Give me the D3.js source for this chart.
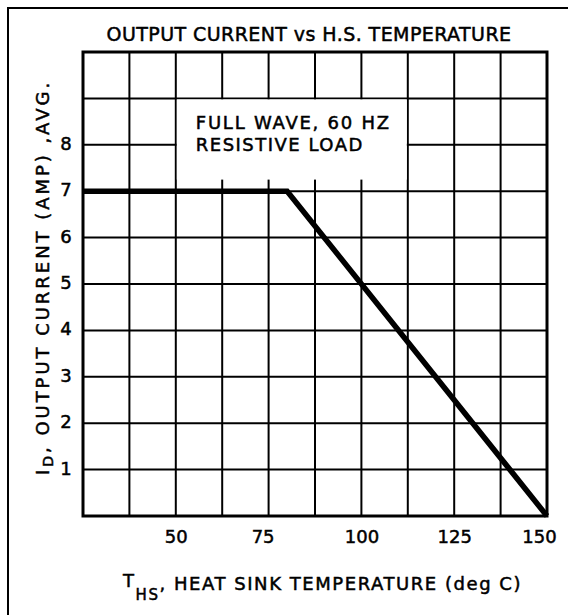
<!DOCTYPE html>
<html>
<head>
<meta charset="utf-8">
<script src="https://cdn.jsdelivr.net/npm/d3@7"></script>
<style>
  body { margin: 0; background: #fff; }
  text { font-family: "DejaVu Sans", sans-serif; fill: #000; stroke: #000; stroke-width: 0.5px; }
</style>
</head>
<body>
<svg id="chart"></svg>
<script>
// derating curve: heat sink temperature (deg C) vs average output current (A)
const temperature = [25, 80, 150];
const outputCurrent = [7, 7, 0];

const xTickValues = [50, 75, 100, 125, 150];
const yTickValues = [1, 2, 3, 4, 5, 6, 7, 8];
const xGridValues = [37.5, 50, 62.5, 75, 87.5, 100, 112.5, 125, 137.5];
const yGridValues = [1, 2, 3, 4, 5, 6, 7, 8, 9];

const title = "OUTPUT CURRENT vs H.S. TEMPERATURE";
const noteLines = ["FULL WAVE, 60 HZ", "RESISTIVE LOAD"];

const width = 568, height = 615;
const margin = { top: 52, right: 21, bottom: 99, left: 83 };
const w = width - margin.left - margin.right;
const h = height - margin.top - margin.bottom;

const svg = d3.select('#chart')
  .attr('width', width)
  .attr('height', height);

// spread letters so a label covers a given width
function fitText(sel, target) {
  const node = sel.node();
  const n = node.textContent.length;
  const len = node.getComputedTextLength();
  sel.attr('letter-spacing', ((target - len) / n).toFixed(2));
}

// scanned page border (only left and top survive)
svg.append('path')
  .attr('d', `M8,${height + 5}V8H${width + 5}`)
  .attr('fill', 'none')
  .attr('stroke', '#000')
  .attr('stroke-width', 2);

const t = svg.append('text')
  .attr('x', 309)
  .attr('y', 41)
  .attr('text-anchor', 'middle')
  .attr('font-size', 19)
  .text(title);
fitText(t, 405);

const g = svg.append('g')
  .attr('transform', `translate(${margin.left},${margin.top})`);

const x = d3.scaleLinear().domain([25, 150]).range([0, w]);
const y = d3.scaleLinear().domain([0, 10]).range([h, 0]);

// grid
g.append('g').selectAll('line')
  .data(xGridValues)
  .enter()
  .append('line')
  .attr('x1', d => x(d)).attr('x2', d => x(d))
  .attr('y1', 0).attr('y2', h)
  .attr('stroke', '#000').attr('stroke-width', 2);

g.append('g').selectAll('line')
  .data(yGridValues)
  .enter()
  .append('line')
  .attr('x1', 0).attr('x2', w)
  .attr('y1', d => y(d)).attr('y2', d => y(d))
  .attr('stroke', '#000').attr('stroke-width', 2);

// note box blanks out the grid behind it
g.append('rect')
  .attr('x', x(50) + 1)
  .attr('y', y(9) + 1)
  .attr('width', x(112.5) - x(50) - 2)
  .attr('height', y(7.25) - y(9) - 1)
  .attr('fill', '#fff');

const noteWidths = [195, 168];
noteLines.forEach((line, i) => {
  const nt = g.append('text')
    .attr('x', x(50) + 20)
    .attr('y', y(9) + 31 + i * 22)
    .attr('font-size', 18)
    .text(line);
  fitText(nt, noteWidths[i]);
});

// frame
g.append('rect')
  .attr('width', w)
  .attr('height', h)
  .attr('fill', 'none')
  .attr('stroke', '#000')
  .attr('stroke-width', 3);

// axes (labels only)
const xAxis = g.append('g')
  .attr('transform', `translate(0,${h})`)
  .call(d3.axisBottom(x).tickValues(xTickValues).tickSize(0).tickPadding(14));
xAxis.select('.domain').remove();
xAxis.selectAll('text')
  .attr('font-size', 18)
  .attr('font-family', '"DejaVu Sans", sans-serif')
  .attr('dx', d => d === 150 ? -8 : (d === 75 ? -6 : 0));

const yAxis = g.append('g')
  .call(d3.axisLeft(y).tickValues(yTickValues).tickSize(0).tickPadding(15));
yAxis.select('.domain').remove();
yAxis.selectAll('text')
  .attr('font-size', 18)
  .attr('font-family', '"DejaVu Sans", sans-serif')
  .attr('text-anchor', 'middle')
  .attr('dx', -2)
  .attr('dy', '0.25em');

// derating curve
const line = d3.line()
  .x((d, i) => x(temperature[i]))
  .y(d => y(d));

g.append('path')
  .datum(outputCurrent)
  .attr('d', line)
  .attr('fill', 'none')
  .attr('stroke', '#000')
  .attr('stroke-width', 5.5)
  .attr('stroke-linejoin', 'miter');

// axis titles
const xt = svg.append('text')
  .attr('x', 123)
  .attr('y', 590)
  .attr('font-size', 18);
xt.append('tspan').attr('dy', -3).text('T');
xt.append('tspan').attr('dy', 13).attr('font-size', 15).text('HS');
xt.append('tspan').attr('dy', -10).text(', HEAT SINK TEMPERATURE (deg C)');
fitText(xt, 399);

const yt = svg.append('text')
  .attr('transform', 'translate(49,475) rotate(-90)')
  .attr('font-size', 18);
yt.append('tspan').text('I');
yt.append('tspan').attr('dy', 4).attr('font-size', 14).text('D');
yt.append('tspan').attr('dy', -4).text(', OUTPUT CURRENT (AMP) ,AVG.');
fitText(yt, 395);
</script>
</body>
</html>
